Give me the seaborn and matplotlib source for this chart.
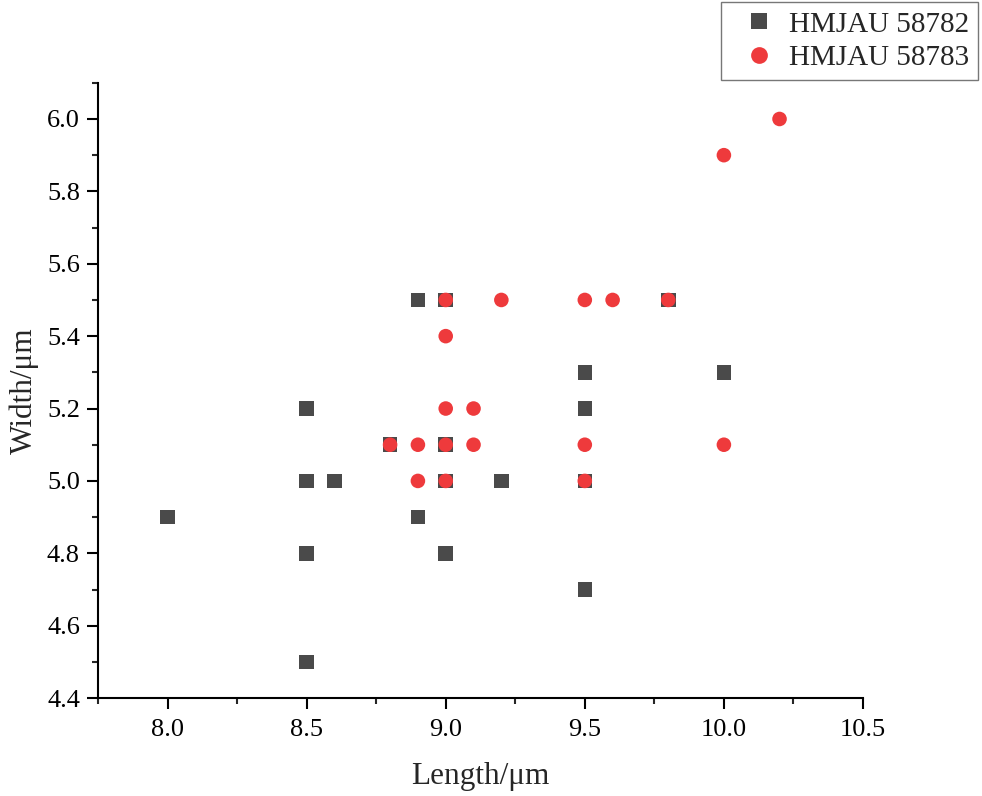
import pandas as pd
import seaborn as sb
import numpy as np
import matplotlib.pyplot as plt
from matplotlib.ticker import MultipleLocator, AutoMinorLocator

# HMJAU 58782 (squares)
len_a = [8.0, 8.5, 8.5, 8.5, 8.5, 8.6, 8.8, 8.9, 8.9, 9.0, 9.0, 9.0, 9.0, 9.2, 9.5, 9.5, 9.5, 9.5, 9.8, 10.0]
wid_a = [4.9, 5.2, 5.0, 4.8, 4.5, 5.0, 5.1, 5.5, 4.9, 5.5, 5.1, 5.0, 4.8, 5.0, 5.3, 5.2, 5.0, 4.7, 5.5, 5.3]
# HMJAU 58783 (circles)
len_b = [8.8, 8.9, 8.9, 9.0, 9.0, 9.0, 9.0, 9.0, 9.1, 9.1, 9.2, 9.5, 9.6, 9.8, 9.5, 9.5, 10.0, 10.2, 10.0]
wid_b = [5.1, 5.1, 5.0, 5.5, 5.4, 5.2, 5.1, 5.0, 5.2, 5.1, 5.5, 5.5, 5.5, 5.5, 5.1, 5.0, 5.9, 6.0, 5.1]
names = ['HMJAU 58782', 'HMJAU 58783']

df = pd.DataFrame({
    'Length': len_a + len_b,
    'Width': wid_a + wid_b,
    'Specimen': [names[0]] * len(len_a) + [names[1]] * len(len_b),
})

sb.set_style('ticks')
plt.rcParams['font.family'] = ['Liberation Serif', 'DejaVu Serif']

fig = plt.figure(figsize=(9.82, 7.96), dpi=100)
ax = fig.add_axes([0.0998, 0.123, 0.779, 0.773])

sb.scatterplot(data=df, x='Length', y='Width', hue='Specimen', style='Specimen',
               palette={names[0]: '#4a4a4a', names[1]: '#ee3a3c'},
               markers={names[0]: 's', names[1]: 'o'},
               s=110, linewidth=0, ax=ax, legend=True)

ax.set_xlim(7.75, 10.5)
ax.set_ylim(4.4, 6.1)
ax.xaxis.set_major_locator(MultipleLocator(0.5))
ax.xaxis.set_minor_locator(AutoMinorLocator(2))
ax.yaxis.set_major_locator(MultipleLocator(0.2))
ax.yaxis.set_minor_locator(AutoMinorLocator(2))
ax.xaxis.set_major_formatter(plt.FormatStrFormatter('%.1f'))
ax.yaxis.set_major_formatter(plt.FormatStrFormatter('%.1f'))

for side in ['top', 'right']:
    ax.spines[side].set_visible(False)
for side in ['left', 'bottom']:
    ax.spines[side].set_linewidth(1.5)
    ax.spines[side].set_color('black')

ax.tick_params(which='major', direction='out', length=8, width=1.5, labelsize=19, colors='black')
ax.tick_params(axis='x', which='major', pad=7)
ax.tick_params(axis='y', which='major', pad=5)
ax.tick_params(which='minor', direction='out', length=4.5, width=1.5)

ax.set_xlabel('Length/μm', fontsize=22.5, labelpad=15)
ax.set_ylabel('Width/μm', fontsize=22.5, labelpad=6)

handles, labels = ax.get_legend_handles_labels()
ax.legend_.remove()
leg = fig.legend(handles, labels, loc='upper right', bbox_to_anchor=(0.996, 0.997),
                 bbox_transform=fig.transFigure, fontsize=21, frameon=True, fancybox=False,
                 borderpad=0.3, handlelength=2.0, handletextpad=0.05, labelspacing=0.25,
                 markerscale=1.15, borderaxespad=0)
leg.get_frame().set_edgecolor('#555555')
leg.get_frame().set_linewidth(1.0)

fig.savefig('out.png', dpi=100)
